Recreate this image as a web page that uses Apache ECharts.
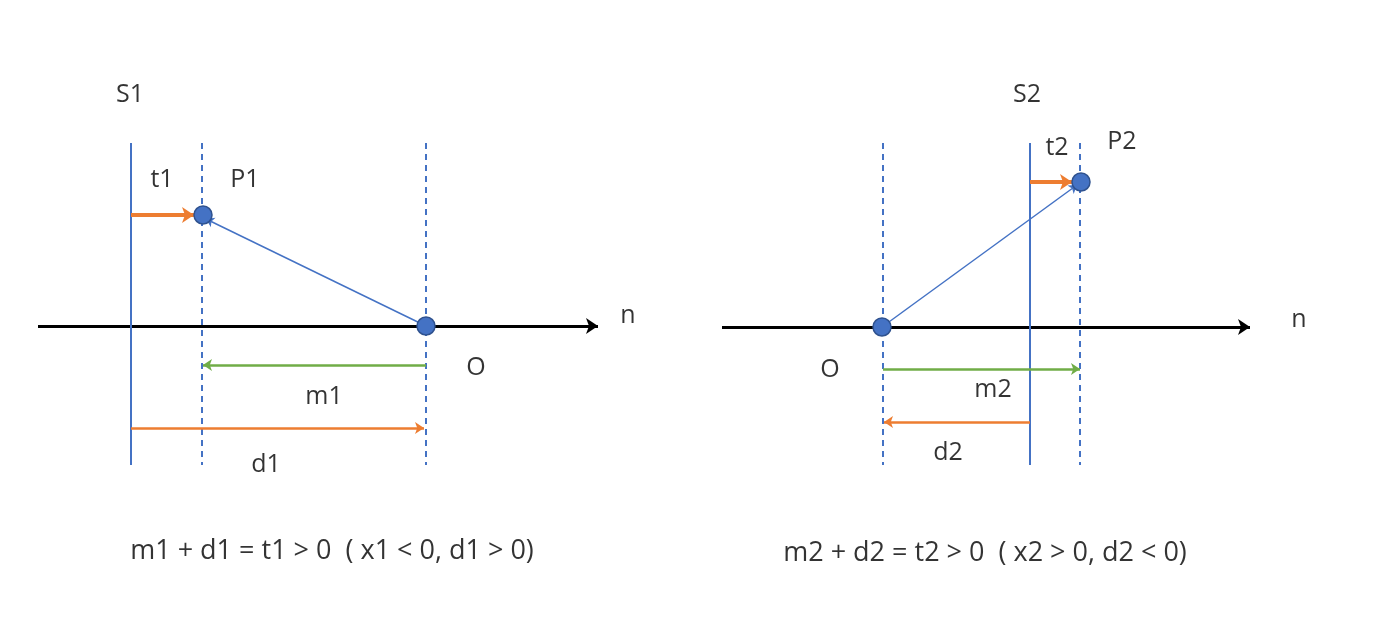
<!DOCTYPE html>
<html>
<head>
<meta charset="utf-8">
<script src="https://cdn.jsdelivr.net/npm/echarts@6/dist/echarts.min.js"></script>
<style>html,body{margin:0;padding:0;background:#fff}#main{width:1388px;height:624px}</style>
</head>
<body>
<div id="main"></div>
<script>
// 坐标单位: 像素 (x 向右, y 向下)
var axisLines = [[[38, 326], [598, 326]], [[722, 327], [1250, 327]]];
var solidLines = [[[131, 143], [131, 465]], [[1030, 143], [1030, 465]]];
var dashedLines = [[[202, 143], [202, 465]], [[426, 143], [426, 465]],
                   [[883, 143], [883, 465]], [[1080, 143], [1080, 465]]];
var vectorLines = [[[426, 326], [206, 219]], [[882, 327], [1077, 185]]];
var tArrows = [[[131, 215], [194, 215]], [[1030, 182], [1072, 182]]];
var greenArrows = [[[426, 365], [203, 365]], [[883, 369], [1080, 369]]];
var orangeArrows = [[[131, 428], [424, 428]], [[1030, 422], [884, 422]]];
var points = [[203, 215], [426, 326], [882, 327], [1081, 182]];
var labels = [
  ['S1', 130, 95], ['t1', 162, 180], ['P1', 245, 180], ['n', 628, 316], ['O', 476, 368],
  ['m1', 324, 397], ['d1', 266, 465],
  ['S2', 1027, 95], ['t2', 1057, 148], ['P2', 1122, 142], ['n', 1299, 320], ['O', 830, 370],
  ['m2', 993, 390], ['d2', 948, 453]
];
var formulas = [
  ['m1 + d1 = t1 > 0  ( x1 < 0, d1 > 0)', 332, 551],
  ['m2 + d2 = t2 > 0  ( x2 > 0, d2 < 0)', 985, 553]
];

var blue = '#4472C4', orange = '#ED7D31', green = '#70AD47';

function lineSeries(list, color, width, type, arrow, size) {
  return {
    type: 'lines', coordinateSystem: 'cartesian2d', silent: true,
    symbol: arrow ? ['none', 'arrow'] : 'none', symbolSize: size || 10,
    lineStyle: { color: color, width: width, type: type, opacity: 1 },
    data: list.map(function (c) { return { coords: c }; })
  };
}

function textSeries(list, size) {
  return {
    type: 'scatter', silent: true, symbolSize: 0, z: 6,
    data: list.map(function (l) { return { value: [l[1], l[2]], name: l[0] }; }),
    label: {
      show: true, position: 'inside', formatter: '{b}',
      fontFamily: 'Open Sans', fontSize: size, color: '#000'
    }
  };
}

var chart = echarts.init(document.getElementById('main'));
chart.setOption({
  animation: false,
  grid: { left: 0, right: 0, top: 0, bottom: 0 },
  xAxis: { type: 'value', min: 0, max: 1388, show: false },
  yAxis: { type: 'value', min: 0, max: 624, inverse: true, show: false },
  series: [
    lineSeries(axisLines, '#000', 3, 'solid', true, 12),
    lineSeries(solidLines, blue, 2, 'solid', false),
    lineSeries(dashedLines, blue, 2, [6, 5], false),
    lineSeries(vectorLines, blue, 1.5, 'solid', true, 8),
    lineSeries(tArrows, orange, 4, 'solid', true, 12),
    lineSeries(greenArrows, green, 2.5, 'solid', true, 9),
    lineSeries(orangeArrows, orange, 2.5, 'solid', true, 9),
    {
      type: 'scatter', silent: true, symbolSize: 18, z: 5,
      itemStyle: { color: blue, borderColor: '#2F528F', borderWidth: 1.5, opacity: 1 },
      data: points
    },
    textSeries(labels, 25),
    textSeries(formulas, 27)
  ]
});
</script>
</body>
</html>
